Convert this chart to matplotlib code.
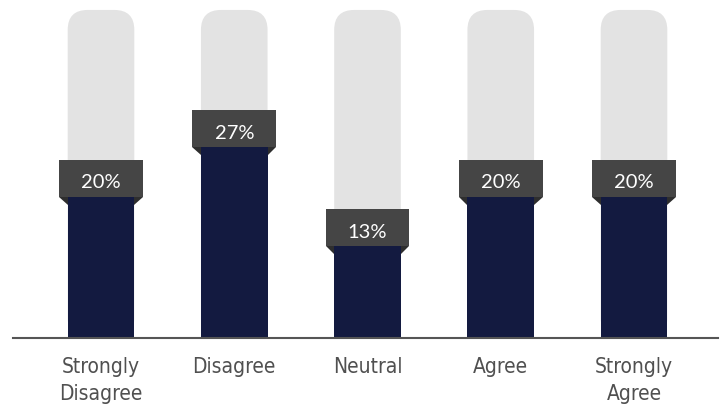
import numpy as np
import matplotlib
matplotlib.use('Agg')
import matplotlib.pyplot as plt
from matplotlib.patches import FancyBboxPatch, Rectangle, Polygon

categories = ['Strongly\nDisagree', 'Disagree', 'Neutral', 'Agree', 'Strongly\nAgree']
values = [20, 27, 13, 20, 20]
labels = ['20%', '27%', '13%', '20%', '20%']
track_max = 46.4

bar_col = '#131a40'
track_col = '#e3e3e3'
box_col = '#454545'
fold_col = '#2e2e2e'

W, H = 723, 408
px_per_unit = 133.25   # x pixels per category slot
px_per_pct = 7.07      # y pixels per percent

fig = plt.figure(figsize=(W / 100, H / 100), dpi=100)
left, right, base = 13, 718, 338
ax = fig.add_axes([left / W, (H - base) / H, (right - left) / W, base / H])
ax.set_xlim(-(101 - left) / px_per_unit, (right - 101) / px_per_unit)
ax.set_ylim(0, base / px_per_pct)

x = np.arange(len(values))
bw = 0.5
box_w = 0.63
box_h = 5.2
fold_h = 8 / px_per_pct
aspect = px_per_unit / px_per_pct

for i, v in zip(x, values):
    # rounded grey track
    track = FancyBboxPatch((i - bw / 2, 0), bw, track_max,
                           boxstyle='round,pad=0,rounding_size=0.15',
                           mutation_aspect=aspect, fc=track_col, ec='none', zorder=1)
    ax.add_patch(track)

bars = ax.bar(x, values, width=bw, color=bar_col, zorder=2)

for i, v, lab in zip(x, values, labels):
    ax.add_patch(Rectangle((i - box_w / 2, v), box_w, box_h, fc=box_col, ec='none', zorder=3))
    for s in (-1, 1):
        ax.add_patch(Polygon([(i + s * box_w / 2, v), (i + s * bw / 2, v),
                              (i + s * bw / 2, v - fold_h)],
                             closed=True, fc=fold_col, ec='none', zorder=3))
    ax.text(i, v + 1.2, lab, ha='center', va='baseline', color='white',
            fontsize=14.5, family='Lato', zorder=4)

for sp in ['top', 'left', 'right']:
    ax.spines[sp].set_visible(False)
ax.spines['bottom'].set_color('#555555')
ax.spines['bottom'].set_linewidth(1.5)
ax.set_yticks([])
ax.set_xticks(x)
ax.set_xticklabels(categories, fontsize=15, color='#505050',
                   family='DejaVu Sans', fontstretch='condensed',
                   fontweight='light', linespacing=1.4)
ax.tick_params(axis='x', length=0, pad=14)

fig.savefig('out.png', dpi=100)
